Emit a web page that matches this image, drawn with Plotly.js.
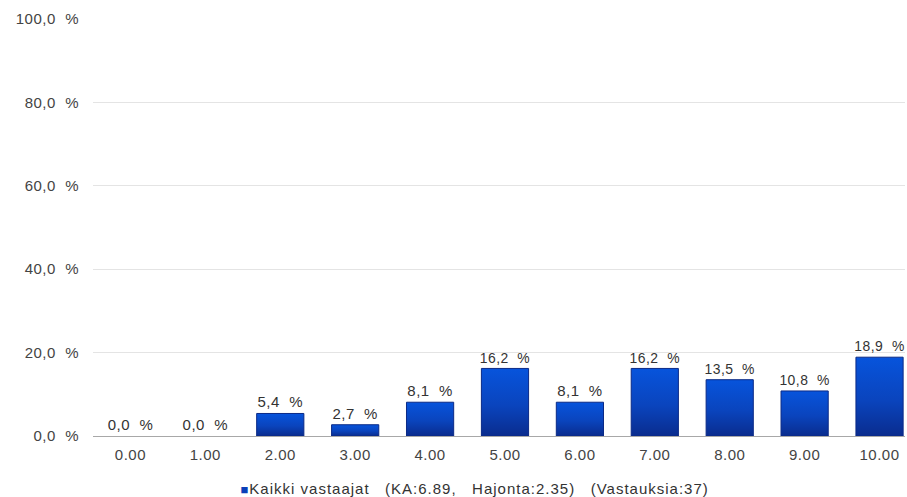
<!DOCTYPE html>
<html>
<head>
<meta charset="utf-8">
<script src="https://cdn.plot.ly/plotly-3.0.1.min.js"></script>
<style>
  html, body { margin: 0; padding: 0; background: #fff; }
  #chart { width: 907px; height: 497px; }
  #chart svg text { letter-spacing: 0.5px; }
  #chart svg .annotation-text { letter-spacing: 1px; }
</style>
</head>
<body>
<div id="chart"></div>
<script>
// Score categories (0–10) and share of respondents per score, in percent
const categories = ['0.00', '1.00', '2.00', '3.00', '4.00', '5.00', '6.00', '7.00', '8.00', '9.00', '10.00'];
const shares = [0.0, 0.0, 5.4, 2.7, 8.1, 16.2, 8.1, 16.2, 13.5, 10.8, 18.9];
const yTickValues = [0, 20, 40, 60, 80, 100];
const yTickLabels = ['0,0  %', '20,0  %', '40,0  %', '60,0  %', '80,0  %', '100,0  %'];
const seriesParts = ['Kaikki vastaajat', '(KA:6.89,', 'Hajonta:2.35)', '(Vastauksia:37)'];

const FONT = 'Liberation Sans, Arial, sans-serif';
const BLUE = '#0a3fb8';
const fmt = v => v.toFixed(1).replace('.', ',') + '  %';

const trace = {
  type: 'bar',
  x: categories.map((_, i) => i),
  y: shares,
  text: shares.map(fmt),
  textposition: 'outside',
  cliponaxis: false,
  textfont: { family: FONT, size: 15, color: '#333' },
  marker: {
    color: BLUE,
    line: { color: '#0b2a86', width: shares.map(v => (v > 0 ? 1 : 0)) }
  },
  width: 0.63,
  hoverinfo: 'skip',
  showlegend: false
};

const layout = {
  width: 907,
  height: 497,
  margin: { l: 93, r: 2, t: 19, b: 61 },
  paper_bgcolor: '#fff',
  plot_bgcolor: '#fff',
  font: { family: FONT, size: 15, color: '#444' },
  xaxis: {
    range: [-0.5, 10.34],
    tickmode: 'array',
    tickvals: categories.map((_, i) => i),
    ticktext: categories,
    showgrid: false,
    zeroline: false,
    showline: false,
    ticks: '',
    ticklabelstandoff: 8,
    fixedrange: true
  },
  yaxis: {
    range: [0, 100],
    tickmode: 'array',
    tickvals: yTickValues,
    ticktext: yTickLabels,
    gridcolor: '#e4e4e4',
    gridwidth: 1,
    zeroline: true,
    zerolinecolor: '#a8a8a8',
    zerolinewidth: 1,
    showline: false,
    ticks: '',
    ticklabelstandoff: 13,
    fixedrange: true
  },
  annotations: [{
    xref: 'paper', yref: 'paper',
    x: 0.47, y: -0.125,
    xanchor: 'center', yanchor: 'middle',
    showarrow: false,
    text: '<span style="color:' + BLUE + ';font-size:13px">■</span>' + seriesParts.join('   '),
    font: { family: FONT, size: 15, color: '#333' }
  }]
};

// Vertical blue gradient for the bars
function applyGradient(gd) {
  const svg = gd.querySelector('svg.main-svg');
  if (!svg) return;
  let defs = svg.querySelector('defs');
  if (!defs) {
    defs = document.createElementNS('http://www.w3.org/2000/svg', 'defs');
    svg.insertBefore(defs, svg.firstChild);
  }
  if (!svg.querySelector('#barGrad')) {
    const g = document.createElementNS('http://www.w3.org/2000/svg', 'linearGradient');
    g.setAttribute('id', 'barGrad');
    g.setAttribute('x1', '0'); g.setAttribute('y1', '0');
    g.setAttribute('x2', '0'); g.setAttribute('y2', '1');
    [['0%', '#0754dc'], ['55%', '#0a44bd'], ['100%', '#0a2c8e']].forEach(([o, c]) => {
      const s = document.createElementNS('http://www.w3.org/2000/svg', 'stop');
      s.setAttribute('offset', o);
      s.setAttribute('stop-color', c);
      g.appendChild(s);
    });
    defs.appendChild(g);
  }
  gd.querySelectorAll('.bars .point path').forEach(p => {
    p.style.fill = 'url(#barGrad)';
  });
}

const gd = document.getElementById('chart');
Plotly.newPlot(gd, [trace], layout, { staticPlot: true, displayModeBar: false }).then(() => {
  applyGradient(gd);
  gd.on('plotly_afterplot', () => applyGradient(gd));
});
</script>
</body>
</html>
